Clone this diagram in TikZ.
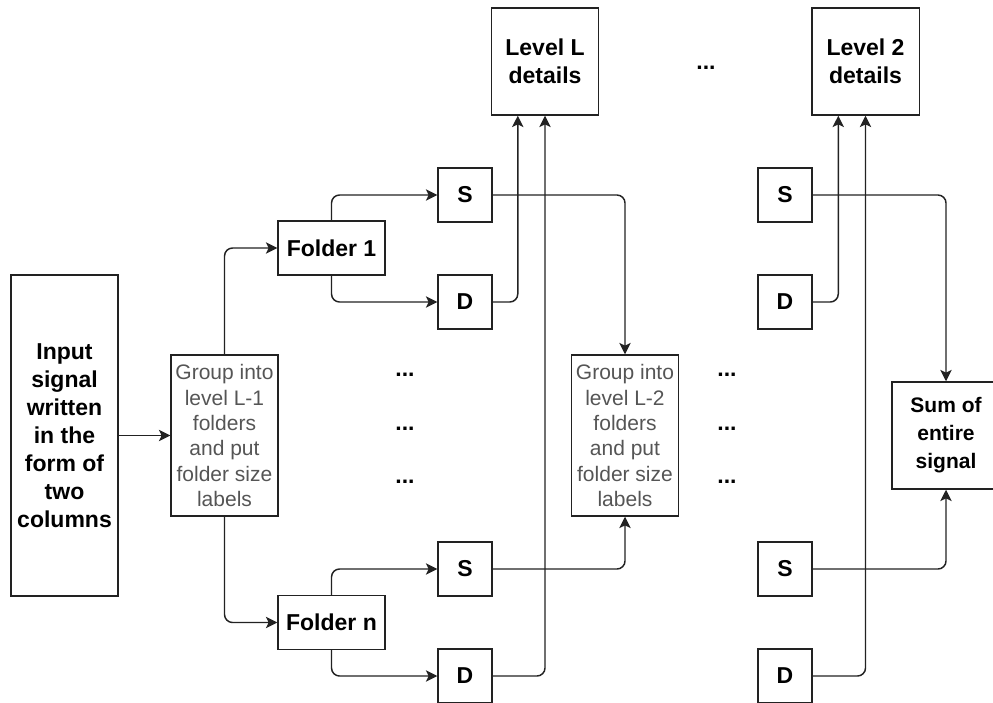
\documentclass[tikz,border=0pt]{standalone}
\usepackage{fontspec}
\setmainfont{Liberation Sans}
\usetikzlibrary{arrows.meta,calc}
\definecolor{linecol}{HTML}{222222}
\definecolor{softtext}{HTML}{555555}
\tikzset{
  box/.style={draw=linecol, line width=1.1pt, inner sep=0pt, align=center,
    text=black, font=\bfseries\fontsize{17.25}{21}\selectfont},
  widebox/.style={box, minimum width=80.25pt, minimum height=40.5pt},
  sdbox/.style={box, minimum width=40.5pt, minimum height=40.5pt},
  bigbox/.style={box, minimum width=80.6pt, minimum height=80.25pt},
  groupbox/.style={box, minimum width=80.25pt, minimum height=120.75pt,
    text=softtext, font=\fontsize{15.75}{19}\selectfont},
  dots/.style={anchor=base, inner sep=0pt, font=\bfseries\fontsize{17.25}{21}\selectfont},
  link/.style={draw=linecol, line width=1.1pt, rounded corners=6pt,
    -{Stealth[length=8.5pt,width=8.5pt,inset=2pt,fill=linecol]}}
}
\begin{document}
\begin{tikzpicture}[x=0.75pt,y=-0.75pt]
  \useasboundingbox (0,0) rectangle (993,703);
  \clip (0,0) rectangle (993,703);

  % input and first grouping stage
  \node[box, minimum width=80.25pt, minimum height=240.75pt] (inp) at (64.5,435.5)
    {Input\\signal\\written\\in the\\form of\\two\\columns};
  \node[groupbox] (g1) at (224.5,435.5)
    {Group into\\level L-1\\folders\\and put\\folder size\\labels};

  % folders of level L-1
  \node[widebox] (f1) at (331.5,248) {Folder 1};
  \node[widebox] (fn) at (331.5,622.5) {Folder n};

  % sums and differences at level L
  \node[sdbox] (s1) at (465,195) {S};
  \node[sdbox] (d1) at (465,302) {D};
  \node[sdbox] (sn) at (465,569) {S};
  \node[sdbox] (dn) at (465,676) {D};

  % detail outputs
  \node[bigbox] (lvL) at (545,61.5) {Level L\\details};
  \node[bigbox] (lv2) at (865.5,61.5) {Level 2\\details};
  \node[dots] (dtop) at (706,69) {...};

  % second grouping stage
  \node[groupbox] (g2) at (625,435.5)
    {Group into\\level L-2\\folders\\and put\\folder size\\labels};

  % last level
  \node[sdbox] (s2) at (785,195) {S};
  \node[sdbox] (d2) at (785,302) {D};
  \node[sdbox] (s2n) at (785,569) {S};
  \node[sdbox] (d2n) at (785,676) {D};

  % final sum
  \node[box, minimum width=81pt, minimum height=80.25pt,
        font=\bfseries\fontsize{15.75}{21}\selectfont] (sum) at (946,435.5)
    {Sum of\\entire\\signal};

  % omitted rows
  \node[dots] (da1) at (405,376) {...};
  \node[dots] (da2) at (405,430) {...};
  \node[dots] (da3) at (405,483) {...};
  \node[dots] (db1) at (727,376) {...};
  \node[dots] (db2) at (727,430) {...};
  \node[dots] (db3) at (727,483) {...};

  % side entry points on the detail boxes
  \coordinate (lvLin) at ($(lvL.south west)!0.25!(lvL.south east)$);
  \coordinate (lv2in) at ($(lv2.south west)!0.25!(lv2.south east)$);

  % connectors
  \draw[link] (inp.east) -- (g1.west);
  \draw[link] (g1.north) |- (f1.west);
  \draw[link] (g1.south) |- (fn.west);
  \draw[link] (f1.north) |- (s1.west);
  \draw[link] (f1.south) |- (d1.west);
  \draw[link] (fn.north) |- (sn.west);
  \draw[link] (fn.south) |- (dn.west);

  \draw[link] (d1.east) -| (lvLin);
  \draw[link] (dn.east) -| (lvL.south);
  \draw[link] (s1.east) -| (g2.north);
  \draw[link] (sn.east) -| (g2.south);

  \draw[link] (d2.east) -| (lv2in);
  \draw[link] (d2n.east) -| (lv2.south);
  \draw[link] (s2.east) -| (sum.north);
  \draw[link] (s2n.east) -| (sum.south);
\end{tikzpicture}
\end{document}
